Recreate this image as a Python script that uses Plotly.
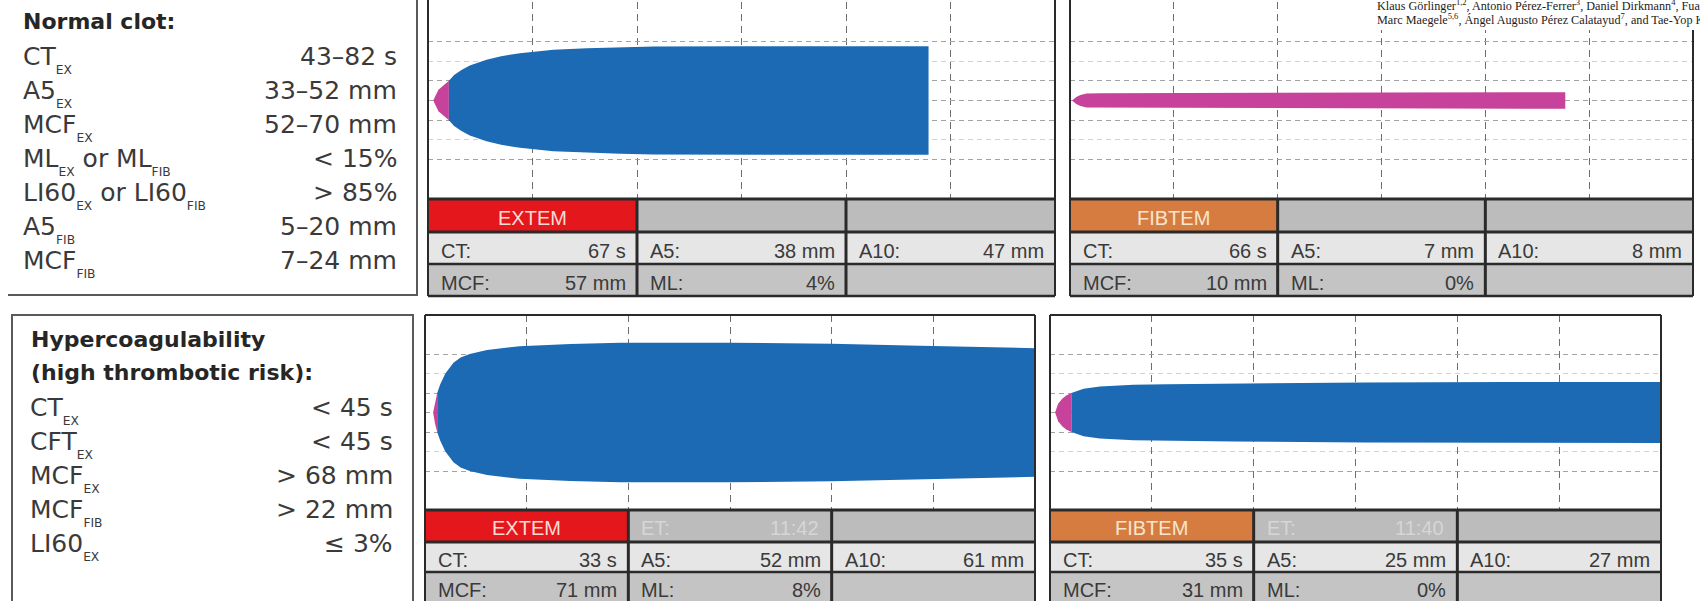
import plotly.graph_objects as go

W, H = 1700, 601

# ---------------- data ----------------
# ROTEM traces: time (min) vs clot amplitude (mm); drawn symmetric (+/- amplitude / 2)
extem_normal_t = [0.5, 1.0, 2.0, 2.5, 3.2, 4.0, 5.6, 7.0, 8.8, 12.0, 15.2, 18.4, 21.6, 30.0, 40.0, 47.9]
extem_normal_amp = [0.0, 11.0, 20.0, 26.0, 31.0, 35.5, 41.3, 45.0, 48.0, 51.4, 53.1, 54.1, 54.8, 55.2, 55.2, 55.2]

fibtem_normal_t = [0.2, 0.6, 1.0, 1.6, 3.0, 6.0, 10.0, 20.0, 30.0, 40.0, 47.7]
fibtem_normal_amp = [0.0, 3.5, 5.5, 7.0, 7.3, 7.5, 7.6, 7.8, 8.0, 8.2, 8.4]

extem_hyper_t = [0.8, 1.0, 1.2, 1.5, 2.0, 2.8, 3.5, 4.4, 6.1, 9.3, 14.3, 19.2, 30.0, 40.0, 48.7, 60.0]
extem_hyper_amp = [0.0, 12.0, 20.0, 29.0, 40.0, 51.0, 56.5, 60.0, 64.0, 68.0, 70.3, 71.5, 71.5, 70.5, 68.5, 66.0]

fibtem_hyper_t = [0.5, 0.8, 1.2, 1.6, 2.1, 3.3, 4.9, 8.2, 11.5, 18.0, 31.0, 45.0, 60.0]
fibtem_hyper_amp = [0.0, 9.0, 14.0, 17.5, 20.0, 24.3, 26.7, 28.4, 29.1, 29.8, 30.8, 31.2, 31.3]

cft_amplitude_mm = 20          # pink before the trace reaches 20 mm, blue after
time_range_min = [0, 60]
time_gridlines_min = [10, 20, 30, 40, 50]
amp_gridlines_mm = [-60, -20, 0, 20, 60]   # grey dashed amplitude lines
amp_reflines_mm = [-40, 40]                # yellow dashed amplitude lines
amp_range_mm = [-100, 100]

# result tables
extem_normal_header = ["EXTEM", None]
extem_normal_row1 = [["CT:", "67 s"], ["A5:", "38 mm"], ["A10:", "47 mm"]]
extem_normal_row2 = [["MCF:", "57 mm"], ["ML:", "4%"], None]

fibtem_normal_header = ["FIBTEM", None]
fibtem_normal_row1 = [["CT:", "66 s"], ["A5:", "7 mm"], ["A10:", "8 mm"]]
fibtem_normal_row2 = [["MCF:", "10 mm"], ["ML:", "0%"], None]

extem_hyper_header = ["EXTEM", ["ET:", "11:42"]]
extem_hyper_row1 = [["CT:", "33 s"], ["A5:", "52 mm"], ["A10:", "61 mm"]]
extem_hyper_row2 = [["MCF:", "71 mm"], ["ML:", "8%"], None]

fibtem_hyper_header = ["FIBTEM", ["ET:", "11:40"]]
fibtem_hyper_row1 = [["CT:", "35 s"], ["A5:", "25 mm"], ["A10:", "27 mm"]]
fibtem_hyper_row2 = [["MCF:", "31 mm"], ["ML:", "0%"], None]

# reference-range boxes
normal_title = ["Normal clot:"]
normal_labels = [[("CT", "EX")], [("A5", "EX")], [("MCF", "EX")],
                 [("ML", "EX"), (" or ML", "FIB")], [("LI60", "EX"), (" or LI60", "FIB")],
                 [("A5", "FIB")], [("MCF", "FIB")]]
normal_values = ["43\u201382 s", "33\u201352 mm", "52\u201370 mm", "< 15%", "> 85%",
                 "5\u201320 mm", "7\u201324 mm"]

hyper_title = ["Hypercoagulability", "(high thrombotic risk):"]
hyper_labels = [[("CT", "EX")], [("CFT", "EX")], [("MCF", "EX")], [("MCF", "FIB")], [("LI60", "EX")]]
hyper_values = ["< 45 s", "< 45 s", "> 68 mm", "> 22 mm", "\u2264 3%"]

authors = ["Klaus G\u00f6rlinger<sup>1,2</sup>, Antonio P\u00e9rez-Ferrer<sup>3</sup>, Daniel Dirkmann<sup>4</sup>, Fuat Saner<sup>4</sup>,",
           "Marc Maegele<sup>5,6</sup>, \u00c1ngel Augusto P\u00e9rez Calatayud<sup>7</sup>, and Tae-Yop Kim<sup>8</sup>"]

# ---------------- styling / layout ----------------
BLUE = "#1b6ab3"
PINK = "#c6429b"
GRID_V = "#6e6e6e"
GRID_H = "#a3a3a3"
GRID_Y = "#d6dc8c"
DARK = "#2a2a2a"
TXT = "#3a3a3a"

ASC = {"DejaVu Sans": 0.928, "Liberation Sans": 0.905, "Liberation Serif": 0.891}


def px(x):
    return x / W


def py(y):
    return 1 - y / H


panels = [
    dict(t=extem_normal_t, a=extem_normal_amp, header=extem_normal_header, r1=extem_normal_row1,
         r2=extem_normal_row2, x0=428, x1=1055, ct=2, cb=199, rows=[199, 232, 264, 296], top=-6,
         hcolor="#e3171c", htext="#f7dcd3"),
    dict(t=fibtem_normal_t, a=fibtem_normal_amp, header=fibtem_normal_header, r1=fibtem_normal_row1,
         r2=fibtem_normal_row2, x0=1070, x1=1693, ct=2, cb=199, rows=[199, 232, 264, 296], top=-6,
         hcolor="#d67c40", htext="#f6e6cf"),
    dict(t=extem_hyper_t, a=extem_hyper_amp, header=extem_hyper_header, r1=extem_hyper_row1,
         r2=extem_hyper_row2, x0=425, x1=1035, ct=315, cb=510, rows=[510, 542, 572, 603], top=315,
         hcolor="#e3171c", htext="#f7dcd3"),
    dict(t=fibtem_hyper_t, a=fibtem_hyper_amp, header=fibtem_hyper_header, r1=fibtem_hyper_row1,
         r2=fibtem_hyper_row2, x0=1050, x1=1661, ct=315, cb=510, rows=[510, 542, 572, 603], top=315,
         hcolor="#d67c40", htext="#f6e6cf"),
]

fig = go.Figure()
shapes = []
annotations = []


def add_text(x, base, text, size, family, color, xanchor="left", bold=False):
    top = base - ASC[family] * size
    if bold:
        text = "<b>" + text + "</b>"
    annotations.append(dict(x=px(x), y=py(top), xref="paper", yref="paper", xanchor=xanchor,
                            yanchor="top", text=text, showarrow=False, borderpad=0, borderwidth=0,
                            font=dict(family=family, size=size, color=color)))


def rect(x0, y0, x1, y1, fill=None, line=None, lw=0, layer="below"):
    shapes.append(dict(type="rect", xref="paper", yref="paper", x0=px(x0), x1=px(x1), y0=py(y1),
                       y1=py(y0), fillcolor=fill if fill else "rgba(0,0,0,0)",
                       line=dict(color=line if line else "rgba(0,0,0,0)", width=lw), layer=layer))


def hline(x0, x1, y, color, lw):
    shapes.append(dict(type="line", xref="paper", yref="paper", x0=px(x0), x1=px(x1), y0=py(y),
                       y1=py(y), line=dict(color=color, width=lw), layer="above"))


def vline(x, y0, y1, color, lw):
    shapes.append(dict(type="line", xref="paper", yref="paper", x0=px(x), x1=px(x), y0=py(y0),
                       y1=py(y1), line=dict(color=color, width=lw), layer="above"))


def envelope(t, a):
    # symmetric trace: upper edge +amplitude/2, lower edge -amplitude/2
    xs = list(t) + list(t[::-1])
    ys = [v / 2 for v in a] + [-v / 2 for v in a[::-1]]
    return xs, ys


for i, p in enumerate(panels):
    n = i + 1
    sfx = "" if n == 1 else str(n)
    xa, ya = "x" + sfx, "y" + sfx
    t, a = p["t"], p["a"]
    k = next((j for j, v in enumerate(a) if v >= cft_amplitude_mm), len(a) - 1)
    xs, ys = envelope(t[:k + 1], a[:k + 1])
    fig.add_trace(go.Scatter(x=xs, y=ys, fill="toself", fillcolor=PINK, mode="lines",
                             line=dict(width=0, color=PINK), xaxis=xa, yaxis=ya, hoverinfo="skip"))
    if k < len(a) - 1:
        xs, ys = envelope(t[k:], a[k:])
        fig.add_trace(go.Scatter(x=xs, y=ys, fill="toself", fillcolor=BLUE, mode="lines",
                                 line=dict(width=0, color=BLUE), xaxis=xa, yaxis=ya, hoverinfo="skip"))
    fig.layout["xaxis" + sfx] = dict(domain=[px(p["x0"]), px(p["x1"])], range=time_range_min,
                                     anchor=ya, tickmode="array", tickvals=time_gridlines_min,
                                     showticklabels=False, ticks="", showgrid=True, gridcolor=GRID_V,
                                     gridwidth=1, griddash="7px,5px", zeroline=False, showline=False,
                                     fixedrange=True)
    fig.layout["yaxis" + sfx] = dict(domain=[py(p["cb"]), py(p["ct"])],
                                     range=[v / 2 for v in amp_range_mm],
                                     anchor=xa, tickmode="array", tickvals=[v / 2 for v in amp_gridlines_mm],
                                     showticklabels=False, ticks="", showgrid=True, gridcolor=GRID_H,
                                     gridwidth=1, griddash="5px,4px", zeroline=False, showline=False,
                                     fixedrange=True,
                                     minor=dict(tickmode="array", tickvals=[v / 2 for v in amp_reflines_mm],
                                                showgrid=True, gridcolor=GRID_Y, gridwidth=1,
                                                griddash="5px,4px", ticks=""))
    # table
    x0, x1 = p["x0"], p["x1"]
    cols = [x0 + (x1 - x0) * c / 3 for c in range(4)]
    r = p["rows"]
    row_fills = ["#bcbcbc", "#e6e6e6", "#c4c4c4"]
    for ri in range(3):
        for ci in range(3):
            fill = row_fills[ri]
            if ri == 0 and ci == 0:
                fill = p["hcolor"]
            rect(cols[ci], r[ri], cols[ci + 1], r[ri + 1], fill=fill)
    hb = (r[0] + r[1]) / 2 + 9.5
    add_text((cols[0] + cols[1]) / 2, hb, p["header"][0], 20, "Liberation Sans", p["htext"], "center")
    if p["header"][1]:
        add_text(cols[1] + 13, hb, p["header"][1][0], 20, "Liberation Sans", "#d6d6d6")
        add_text(cols[2] - 13, hb, p["header"][1][1], 20, "Liberation Sans", "#d6d6d6", "right")
    for ri, row in ((1, p["r1"]), (2, p["r2"])):
        base = (r[ri] + r[ri + 1]) / 2 + 9.8
        for ci, cell in enumerate(row):
            if cell is None:
                continue
            add_text(cols[ci] + 13, base, cell[0], 20, "Liberation Sans", TXT)
            add_text(cols[ci + 1] - 11, base, cell[1], 20, "Liberation Sans", TXT, "right")
    hline(x0, x1, r[0], DARK, 3)
    hline(x0, x1, r[1], DARK, 3)
    hline(x0, x1, r[2], DARK, 2.5)
    hline(x0, x1, r[3], DARK, 2.5)
    for c in cols[1:3]:
        vline(c, r[0], r[3], DARK, 3)
    vline(x0, p["top"], r[3], DARK, 2)
    vline(x1, p["top"], r[3], DARK, 2)
    if p["top"] > 0:
        hline(x0, x1, p["top"], DARK, 2)


def sub_html(parts):
    return "".join(m + "<sub><sub>" + s + "</sub></sub>" for m, s in parts)


LAB = 25
# reference-range box 1
hline(8, 418, 295, "#5a5a5a", 2)
vline(417, -6, 296, "#5a5a5a", 2)
add_text(23, 29, normal_title[0], 22, "DejaVu Sans", "#262626", bold=True)
for i, (lab, val) in enumerate(zip(normal_labels, normal_values)):
    base = 65.5 + 33.9 * i
    add_text(23, base, sub_html(lab), LAB, "DejaVu Sans", TXT)
    add_text(397, base, val, LAB, "DejaVu Sans", TXT, "right")

# reference-range box 2
hline(11, 414, 315, "#5a5a5a", 2)
vline(12, 314, 610, "#5a5a5a", 2)
vline(413, 314, 610, "#5a5a5a", 2)
for i, ttl in enumerate(hyper_title):
    add_text(31, 347 + 33 * i, ttl, 22, "DejaVu Sans", "#262626", bold=True)
for i, (lab, val) in enumerate(zip(hyper_labels, hyper_values)):
    base = 416 + 34 * i
    add_text(30, base, sub_html(lab), LAB, "DejaVu Sans", TXT)
    add_text(393, base, val, LAB, "DejaVu Sans", TXT, "right")

# pasted author block at the top right
rect(1366, -5, 1705, 30, fill="white", layer="above")
add_text(1377, 8, authors[0], 12.2, "Liberation Serif", "#1c1c1c")
add_text(1377, 21.5, authors[1], 12.2, "Liberation Serif", "#1c1c1c")

fig.update_layout(width=W, height=H, margin=dict(l=0, r=0, t=0, b=0), showlegend=False,
                  paper_bgcolor="white", plot_bgcolor="white", shapes=shapes,
                  annotations=annotations)

fig.write_html("out.html", config={"displayModeBar": False},
               post_script="document.body.style.margin='0';document.body.style.overflow='hidden';")
